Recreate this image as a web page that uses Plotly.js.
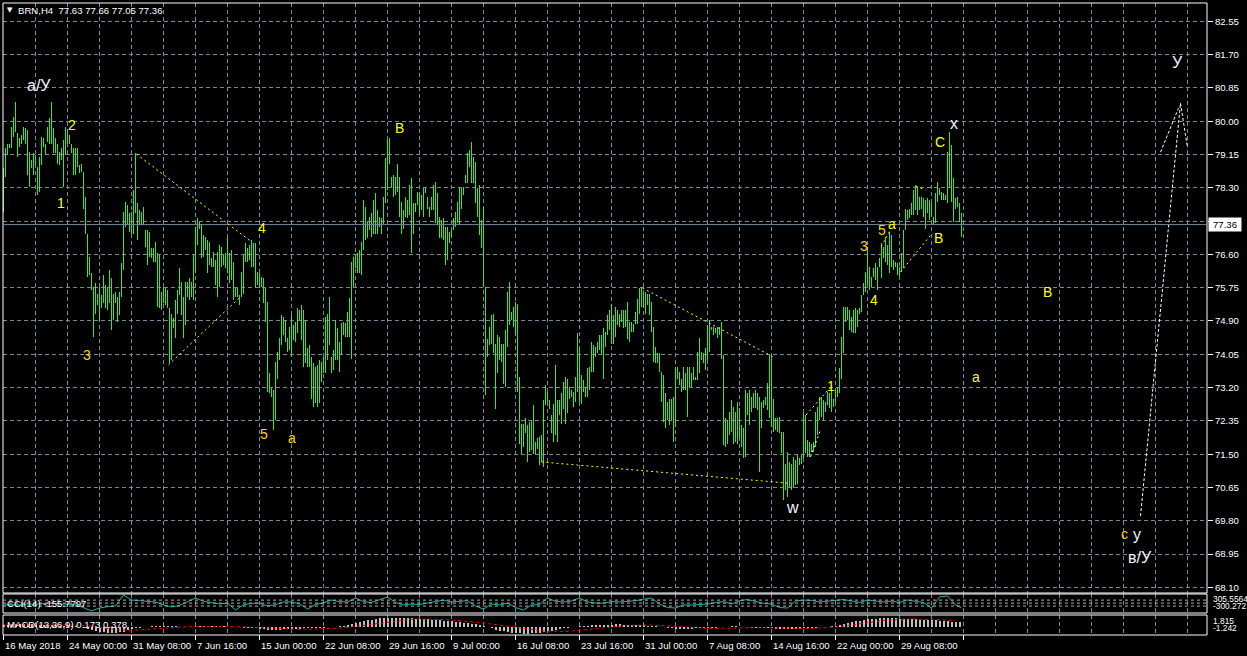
<!DOCTYPE html>
<html><head><meta charset="utf-8">
<script src="https://cdn.plot.ly/plotly-3.0.1.min.js"></script>
<style>html,body{margin:0;padding:0;background:#000;overflow:hidden}#chart{width:1247px;height:656px}</style>
</head><body><div id="chart"></div>
<script>
// ---------------- DATA ----------------
const symbolTitle = "BRN,H4  77.63 77.66 77.05 77.36";
const lastPrice = 77.36;
const priceTicks = [82.55,81.70,80.85,80.00,79.15,78.30,77.45,76.60,75.75,74.90,74.05,73.20,72.35,71.50,70.65,69.80,68.95,68.10];
const dateLabels = ["16 May 2018","24 May 00:00","31 May 08:00","7 Jun 16:00","15 Jun 00:00","22 Jun 08:00","29 Jun 16:00","9 Jul 00:00","16 Jul 08:00","23 Jul 16:00","31 Jul 00:00","7 Aug 08:00","14 Aug 16:00","22 Aug 00:00","29 Aug 08:00",""];

// H4 bars (high / low), one per bar
const barHigh = [
78.80,79.31,79.43,79.43,79.86,80.11,80.50,79.69,79.56,79.65,
79.86,79.82,79.77,79.22,79.01,79.18,79.14,78.84,79.09,79.60,
79.56,79.43,79.86,80.07,80.50,79.82,79.56,79.43,79.22,79.31,
79.52,79.86,79.77,79.65,79.43,79.31,79.31,79.31,78.88,78.92,
78.71,78.07,77.13,76.54,76.12,75.77,75.86,75.60,75.77,75.56,
76.07,75.82,75.77,76.20,75.99,75.60,75.65,75.52,75.65,76.37,
77.69,77.94,77.86,77.65,77.69,78.24,79.18,77.90,77.73,77.69,
77.82,77.22,77.22,77.18,76.75,76.75,76.92,76.63,76.58,75.65,
75.77,75.73,75.69,75.22,75.09,74.97,75.43,75.69,76.24,75.90,
75.52,75.90,75.90,75.99,75.90,76.58,77.31,77.52,77.43,77.35,
77.09,77.05,76.97,76.92,76.50,76.67,76.46,76.67,76.84,76.80,
76.58,76.63,77.05,76.63,76.71,76.41,75.73,75.73,75.56,76.16,
76.58,76.88,76.75,76.84,76.97,76.88,76.88,76.16,76.12,76.03,
75.99,75.73,75.39,73.56,73.18,73.14,73.86,74.12,74.46,75.05,
75.01,74.92,74.46,74.75,75.05,74.80,74.88,75.22,75.18,75.31,
75.18,74.92,74.20,74.29,73.99,73.82,73.73,73.77,73.90,
73.86,73.99,75.01,75.09,75.52,73.99,74.16,74.92,74.71,74.37,
74.84,74.88,74.84,75.14,75.48,76.41,76.54,76.58,76.63,76.71,
76.92,77.99,77.82,77.43,77.56,77.65,77.99,78.16,77.73,77.56,
77.52,78.07,79.05,79.52,79.56,78.58,78.63,78.58,78.92,78.58,
77.94,77.73,78.07,77.99,78.37,78.54,77.90,77.90,78.20,78.16,
78.12,78.29,78.29,78.07,77.82,78.07,78.37,78.46,78.16,77.56,
77.48,77.52,77.31,77.31,77.18,77.22,77.52,77.69,77.94,78.29,
78.29,78.33,78.63,79.18,79.26,79.48,79.09,78.97,78.29,78.37,
77.48,77.82,
75.77,74.45,74.75,75.05,75.09,74.32,74.54,74.49,74.32,74.32,
74.66,75.64,75.90,75.13,75.26,75.39,75.34,73.47,72.28,72.28,
72.41,72.24,72.32,72.37,72.75,71.81,71.90,71.94,71.98,72.88,
73.26,73.09,72.88,72.49,72.79,73.77,72.88,72.88,73.05,73.34,
73.47,73.43,73.22,73.13,73.09,73.47,74.58,74.20,73.52,73.39,
73.22,73.69,73.73,74.37,74.28,74.24,74.37,74.54,74.54,74.71,
74.62,75.05,75.17,75.34,75.05,75.26,75.17,75.09,75.17,75.17,
75.17,75.39,74.88,74.88,74.83,75.13,75.47,75.73,
75.77,75.65,75.65,75.60,75.60,75.39,74.75,74.24,74.07,74.07,
73.60,73.52,73.05,72.84,72.92,72.92,72.97,73.73,73.73,73.60,
73.43,73.73,73.56,73.73,73.73,73.56,73.73,73.48,74.12,74.46,
74.12,74.07,74.20,74.80,74.92,74.75,74.75,74.71,74.75,74.75,
74.88,74.03,72.41,72.37,72.58,72.88,72.71,72.58,72.84,72.67,
72.24,72.16,73.14,73.05,73.14,72.97,73.05,73.14,73.05,72.97,
72.84,72.88,72.97,73.31,74.03,73.99,72.92,72.41,72.41,72.46,
72.07,72.07,71.26,71.56,71.31,71.26,71.43,71.35,71.48,71.39,
71.48,72.54,72.50,71.86,71.82,71.77,71.82,72.58,72.71,72.97,
72.97,72.88,72.84,73.09,73.05,73.14,72.92,73.14,73.22,73.69,
74.50,75.26,75.26,75.26,75.18,75.01,75.18,75.22,75.18,75.22,
75.56,75.86,76.16,76.80,76.29,76.03,76.24,76.37,76.29,76.50,
76.88,76.80,77.05,76.84,77.18,77.09,76.46,76.41,76.37,76.29,
76.63,77.22,77.77,77.73,77.77,77.90,78.24,78.37,78.33,78.07,
78.07,78.03,77.99,78.03,77.99,77.94,77.56,78.16,78.46,78.29,
78.20,78.16,78.12,79.22,79.73,79.39,78.54,78.03,78.07,77.90,77.66
];
const barLow = [
77.69,78.57,79.14,79.31,79.31,79.60,79.73,79.09,79.35,79.43,
79.52,79.43,78.63,78.33,78.80,78.63,78.88,78.12,78.20,78.88,
79.35,79.14,79.48,79.43,79.43,79.18,79.18,78.92,78.88,79.01,
78.33,79.14,79.43,79.43,79.18,78.63,78.63,78.84,78.67,78.71,
77.77,77.13,76.03,76.07,75.69,74.50,75.09,75.31,74.88,75.22,
75.35,75.22,75.18,75.35,74.67,74.92,75.35,74.88,75.05,75.52,
76.20,77.31,77.35,77.18,77.13,77.13,77.65,76.97,77.35,77.35,
77.35,76.80,76.33,76.54,76.50,76.41,76.41,75.26,75.22,75.18,
75.35,75.31,75.22,73.82,73.90,74.71,74.46,75.09,75.56,75.05,
74.46,74.80,75.52,75.43,75.52,75.43,76.12,76.84,77.26,76.50,
76.54,76.71,76.12,76.33,76.29,76.29,75.82,75.52,75.77,76.29,
76.33,76.24,76.12,75.86,75.94,75.43,75.52,75.52,75.31,75.52,
75.60,76.41,76.41,76.46,76.29,76.29,75.77,75.82,75.73,75.77,
75.35,74.88,73.09,73.05,72.97,72.12,72.37,73.43,73.90,74.29,
74.54,74.37,74.12,74.16,73.99,74.41,74.37,74.58,74.92,74.41,
73.73,73.82,73.73,73.73,72.92,72.71,72.80,72.71,72.80,
73.35,73.56,73.56,73.90,74.29,73.56,73.65,73.90,73.90,73.60,
74.03,74.54,74.50,74.50,74.50,73.94,75.77,76.24,76.12,76.12,
76.07,76.71,76.97,77.01,77.22,77.05,77.13,77.13,77.13,77.31,
77.13,77.35,77.90,78.24,78.92,78.33,78.07,78.12,78.20,77.56,
77.13,77.26,77.56,77.52,77.60,76.63,77.13,77.69,77.86,77.60,
77.73,77.56,78.16,77.77,77.56,77.73,77.73,77.39,77.35,77.01,
77.01,76.97,76.33,76.46,76.88,77.05,77.22,77.31,77.39,77.35,
77.77,78.12,78.41,78.41,78.84,78.41,78.41,77.90,77.56,77.09,
76.75,75.77,
73.00,73.98,74.28,74.32,74.07,72.66,73.56,73.90,73.85,73.30,
73.22,74.24,74.79,74.92,74.75,74.54,73.09,71.77,71.51,71.68,
72.03,71.30,71.56,71.60,71.51,71.51,71.64,71.22,71.30,71.17,
72.75,72.83,72.66,72.03,71.81,71.98,71.81,72.49,72.28,72.66,
72.28,72.54,72.92,72.96,72.71,72.83,73.09,72.83,72.79,73.09,
72.96,72.96,73.13,73.60,73.60,73.98,74.07,74.15,74.03,73.43,
74.24,74.54,74.66,74.32,74.32,74.49,74.79,74.75,74.88,74.71,
74.75,74.45,74.37,74.62,74.62,74.83,74.83,75.09,
75.26,75.26,75.09,75.31,75.05,74.62,73.86,73.82,73.82,73.60,
72.84,72.33,72.16,72.37,72.24,72.37,71.82,72.20,73.43,73.26,
73.09,73.14,73.14,72.46,73.22,73.22,73.39,73.39,73.39,73.56,
73.90,73.82,73.65,73.90,74.12,74.67,74.54,74.58,74.46,74.54,
73.94,71.73,71.69,71.77,71.99,72.07,71.77,71.82,71.77,71.90,
71.69,71.39,71.43,72.50,72.24,72.58,72.67,72.67,72.63,71.05,
72.16,72.67,72.75,72.63,72.41,72.20,72.07,72.12,72.07,72.03,
71.52,70.33,70.58,70.41,70.67,70.58,70.63,70.71,70.75,71.22,
71.26,71.39,71.52,71.43,71.43,71.56,71.56,71.69,71.99,72.37,
72.46,72.37,72.58,72.75,72.67,72.58,72.71,72.84,72.97,73.05,
73.43,74.07,74.88,74.92,74.67,74.63,74.58,74.58,74.75,75.09,
75.14,75.56,75.65,75.82,75.69,75.77,76.03,75.94,75.69,76.29,
75.99,76.50,76.41,76.33,76.12,76.29,76.20,76.29,76.07,76.03,
76.16,76.24,77.22,77.48,77.52,77.60,77.60,77.73,77.60,77.73,
77.77,77.56,77.26,77.65,77.48,77.56,77.35,77.39,77.94,78.12,
77.99,77.99,77.99,77.90,78.33,77.94,77.43,77.77,77.82,77.43,77.05
];

// CCI(14), read every 4th bar, plus the last bar
const cciStep = 4;
const cciValues = [
-65,-50,-65,-31,-40,-20,0,-31,-31,-65,
-150,-267,-166,-120,-99,272,103,80,70,36,
-65,-130,-80,40,171,60,10,-31,0,-230,
-60,-10,2,-100,-50,36,40,-31,-200,-50,
10,100,50,36,171,50,20,120,205,20,
-60,-31,-50,0,60,100,36,70,80,-100,
-200,-31,-65,0,-150,-234,-65,-50,171,60,
36,70,171,40,0,2,50,36,60,80,
130,171,-31,-150,-166,-60,-65,-40,-31,20,
50,-31,80,120,60,-10,-31,-150,-166,70,
103,90,36,60,80,120,70,20,103,60,
36,70,20,103,70,20,-166,205,240,-65
];
const cciLast = -155.7797;
const cciLevels = [100, 0, -100];

// MACD(12,26,9): main histogram every 2nd bar, signal every 4th bar
const macdStep = 2;
const macdMain = [
0.3,0.35,0.4,0.4,0.45,0.45,0.4,0.4,0.35,0.35,0.3,0.3,0.25,0.25,0.2,0.2,0.15,0.1,0.05,
-0.05,-0.2,-0.4,-0.6,-0.75,-0.85,-0.95,-1.0,-1.05,-1.0,-0.95,-0.85,
-0.6,-0.4,-0.25,-0.15,-0.1,
0,0.05,0.1,0.1,0.15,0.15,0.1,0.05,0,-0.05,-0.05,0,0.05,0.1,0.15,0.15,0.1,0.1,0.05,0.05,0,-0.05,-0.1,-0.1,-0.15,-0.15,-0.2,
-0.25,-0.35,-0.45,-0.5,-0.55,-0.55,-0.5,-0.45,-0.4,-0.4,-0.35,-0.35,-0.3,-0.3,-0.25,-0.25,-0.2,-0.15,-0.1,-0.05,
0,0.1,0.2,0.35,0.5,0.65,0.8,0.95,1.1,1.2,1.3,1.4,1.45,1.5,1.55,1.55,1.5,1.5,
1.45,1.4,1.35,1.3,1.3,1.25,1.2,1.15,1.1,1.0,0.95,0.9,0.85,0.8,0.7,0.6,0.5,0.4,0.3,
0.1,-0.1,-0.3,-0.5,-0.65,-0.8,-0.9,-1.0,-1.1,-1.15,-1.2,-1.2,-1.15,-1.1,-1.0,-0.9,-0.8,-0.65,-0.5,-0.4,-0.3,
-0.2,-0.1,0,0.1,0.15,0.2,0.25,0.3,0.3,0.35,
0.35,0.35,0.4,0.4,0.35,0.35,0.3,0.3,0.3,0.25,0.2,0.15,0.1,0,-0.1,
-0.2,-0.3,-0.35,-0.4,-0.4,-0.35,-0.35,-0.3,-0.3,-0.25,-0.2,-0.2,
-0.15,-0.1,-0.05,0,0.05,0.05,0,-0.05,-0.1,-0.15,-0.2,-0.25,-0.3,-0.3,-0.3,-0.35,
-0.4,-0.45,-0.45,-0.45,-0.4,-0.35,-0.3,-0.25,-0.2,-0.15,-0.1,-0.05,0,
0.1,0.2,0.35,0.5,0.65,0.8,0.95,1.05,1.15,1.25,1.3,1.35,1.4,1.45,
1.45,1.45,1.4,1.35,1.3,1.3,1.25,1.25,1.2,1.2,1.15,1.1,1.1,1.0,0.95,0.9,0.85,0.8,0.75
];
const signalStep = 4;
const macdSignal = [
0.3,0.32,0.35,0.37,0.38,0.37,0.35,0.33,0.3,0.27,
0.2,0.05,-0.15,-0.35,-0.5,-0.6,-0.6,-0.55,-0.45,-0.35,
-0.25,-0.15,-0.08,-0.02,0.02,0.05,0.05,0.04,0.02,0.0,-0.03,-0.07,
-0.12,-0.2,-0.28,-0.35,-0.4,-0.42,-0.42,-0.4,-0.37,-0.32,
-0.25,-0.12,0.05,0.25,0.45,0.65,0.85,1.0,1.15,1.25,
1.3,1.3,1.28,1.22,1.15,1.05,0.95,0.8,
0.65,0.45,0.25,0.05,-0.15,-0.35,-0.5,-0.65,-0.75,-0.8,-0.8,
-0.75,-0.6,-0.45,-0.3,-0.15,0.0,0.1,0.2,0.25,0.3,
0.28,0.22,0.12,0.0,-0.1,-0.2,-0.25,-0.28,-0.28,-0.25,
-0.2,-0.15,-0.12,-0.12,-0.15,-0.2,-0.25,-0.3,-0.33,-0.33,
-0.3,-0.25,-0.15,-0.05,0.1,0.3,0.5,0.7,0.9,1.05,
1.15,1.25,1.3,1.3,1.28,1.25,1.2,1.12,1.05
];

// Wave labels (bar position, price)
const waveText  = ["a/У","2","1","3","4","5","a","В","1","3","4","5","a","В","С","x","w","a","В","c","у","в/У","У"];
const waveBar   = [17.5,34,28.5,41.5,129,130,144,198,413.5,430,435,439,444,467.5,468,475,394.5,486,522,560.5,566.5,568,587];
const wavePrice = [80.90,79.90,77.91,74.03,77.27,72.01,71.91,79.83,73.24,76.81,75.43,77.22,77.38,77.02,79.47,79.93,70.15,73.47,75.64,69.46,69.44,68.85,81.51];
const waveTone  = ["w","y","y","g","y","g","g","y","y","g","y","g","y","y","y","w","w","y","y","g","w","w","w"];

// Drawn trend lines: [bar0, price0, bar1, price1]
const yellowLines = [
  [66.5,79.16,124,76.92],[82.5,73.78,119,75.54],
  [319.5,75.74,385,73.98],[269,71.30,392,70.76],
  [438.8,76.80,443.2,77.20],[448.5,76.15,464.5,77.15],[456.2,78.34,461,78.24]
];
const whiteLines = [[401.3,72.50,413.5,73.21],[403.5,71.43,408.5,72.12]];
const projectionBars   = [568.5,588.5,592];
const projectionPrices = [69.92,80.46,79.32];
const projectionBranch = [[578.5,79.21],[587.5,80.33]];

// ---------------- CHART ----------------
const W = 1247, H = 656, L = 3, R = 40, T = 3, B = 21;
const PW = W - L - R, PH = H - T - B;
const PX = x => (x - L) / PW;
const PY = y => (H - B - y) / PH;
const FONT = "Liberation Sans, Arial, sans-serif";
const GRID = "#778899";
const nBars = barHigh.length;

const barIdx = barHigh.map((_, i) => i);
const barSpan = barHigh.map((h, i) => h - barLow[i]);

const cciX = cciValues.map((_, k) => k * cciStep).concat([nBars - 1]);
const cciY = cciValues.concat([cciLast]);
const macdX = macdMain.map((_, k) => k * macdStep);
const sigX = macdSignal.map((_, k) => k * signalStep);

const gridBars = []; for (let v = 16; v <= 600; v += 16) gridBars.push(v);

const traces = [
  {type:"bar", x:barIdx, y:barSpan, base:barLow, width:0.5, marker:{color:"#3ce43c", line:{width:0}}, hoverinfo:"skip", xaxis:"x", yaxis:"y"},
  {type:"scatter", mode:"lines", x:[projectionBars[0], projectionBars[1]], y:[projectionPrices[0], projectionPrices[1]], line:{color:"#ffffff", width:1, dash:"3px,2px"}, xaxis:"x", yaxis:"y", hoverinfo:"skip"},
  {type:"scatter", mode:"lines", x:[projectionBars[1], projectionBars[2]], y:[projectionPrices[1], projectionPrices[2]], line:{color:"#ffffff", width:1, dash:"3px,2px"}, xaxis:"x", yaxis:"y", hoverinfo:"skip"},
  {type:"scatter", mode:"lines", x:projectionBranch.map(p=>p[0]), y:projectionBranch.map(p=>p[1]), line:{color:"#ffffff", width:1, dash:"3px,2px"}, xaxis:"x", yaxis:"y", hoverinfo:"skip"},
  {type:"scatter", mode:"lines", x:cciX, y:cciY, line:{color:"#20b2aa", width:1}, xaxis:"x2", yaxis:"y2", hoverinfo:"skip"},
  {type:"bar", x:macdX, y:macdMain, width:1, marker:{color:"#c0c0c0", line:{width:0}}, xaxis:"x3", yaxis:"y3", hoverinfo:"skip"},
  {type:"scatter", mode:"lines", x:sigX, y:macdSignal, line:{color:"#ff0000", width:1, dash:"3px,3px"}, xaxis:"x3", yaxis:"y3", hoverinfo:"skip"}
];

const mainBottom = PY(593), cciTop = PY(594), cciBottom = PY(613), macdTop = PY(615);

const xBase = {range:[-0.25, PW/2 - 0.25], showticklabels:false, ticks:"", tickmode:"array", tickvals:gridBars,
  showgrid:true, gridcolor:GRID, gridwidth:1, griddash:"4px,3px", zeroline:false, showline:false, fixedrange:true};

const shapes = [];
const frame = (y0, y1) => shapes.push({type:"rect", xref:"paper", yref:"paper", x0:0, x1:1, y0:y0, y1:y1, line:{color:"#ffffff", width:1}, fillcolor:"rgba(0,0,0,0)", layer:"above"});
frame(mainBottom, 1); frame(cciBottom, cciTop); frame(0, macdTop);
shapes.push({type:"line", xref:"paper", yref:"y", x0:0, x1:1, y0:lastPrice, y1:lastPrice, line:{color:GRID, width:1}});
cciLevels.forEach(v => shapes.push({type:"line", xref:"paper", yref:"y2", x0:0, x1:1, y0:v, y1:v, line:{color:"#b0b0b0", width:1, dash:"3px,3px"}}));
for (let k = 0; k < dateLabels.length; k++) {
  shapes.push({type:"line", xref:"x3", yref:"paper", x0:k*32, x1:k*32, y0:0, y1:PY(640), line:{color:"#ffffff", width:1}});
}
yellowLines.forEach(s => shapes.push({type:"line", xref:"x", yref:"y", x0:s[0], y0:s[1], x1:s[2], y1:s[3], line:{color:"#ffff00", width:1, dash:"2px,3px"}}));
whiteLines.forEach(s => shapes.push({type:"line", xref:"x", yref:"y", x0:s[0], y0:s[1], x1:s[2], y1:s[3], line:{color:"#ffffff", width:1, dash:"2px,3px"}}));

const annotations = [];
const txt = (o) => annotations.push(Object.assign({showarrow:false, font:{family:FONT, size:9.6, color:"#ffffff"}}, o));
// header
txt({xref:"paper", yref:"paper", x:PX(9.5), y:PY(10.5), text:"▼", font:{family:"DejaVu Sans, sans-serif", size:7, color:"#ffffff"}, xanchor:"center", yanchor:"middle"});
txt({xref:"paper", yref:"paper", x:PX(16), y:PY(10.5), text:symbolTitle.replace(/ /g, "&nbsp;"), xanchor:"left", yanchor:"middle"});
// sub-window titles
txt({xref:"paper", yref:"paper", x:PX(5), y:PY(603), text:"CCI(14) " + cciLast.toFixed(4), xanchor:"left", yanchor:"middle"});
txt({xref:"paper", yref:"paper", x:PX(5), y:PY(624.5), text:"MACD(12,26,9) 0.173 0.378", xanchor:"left", yanchor:"middle"});
// sub-window scale labels
const smallFont = {family:FONT, size:8.4, color:"#ffffff"};
txt({xref:"paper", yref:"paper", x:PX(1211), y:PY(599), text:"305.5564", xanchor:"left", yanchor:"middle", font:smallFont});
txt({xref:"paper", yref:"paper", x:PX(1211), y:PY(606), text:"-300.272", xanchor:"left", yanchor:"middle", font:smallFont});
txt({xref:"paper", yref:"paper", x:PX(1211), y:PY(621), text:"1.815", xanchor:"left", yanchor:"middle", font:smallFont});
txt({xref:"paper", yref:"paper", x:PX(1211), y:PY(628), text:"-1.242", xanchor:"left", yanchor:"middle", font:smallFont});
// price box
txt({xref:"paper", yref:"y", x:PX(1208), y:lastPrice, text:lastPrice.toFixed(2), xanchor:"left", yanchor:"middle", bgcolor:"#ffffff", width:30, height:11, borderpad:1, font:{family:FONT, size:9.6, color:"#000000"}});
// date labels
dateLabels.forEach((s, k) => { if (s) txt({xref:"x3", yref:"paper", x:k*32, y:PY(645), xshift:-1, text:s, xanchor:"left", yanchor:"middle"}); });
// wave labels
const toneColor = {w:"#f0f4ff", y:"#ffff00", g:"#ffd21a"};
const toneSize = {w:16, y:14, g:14};
waveText.forEach((s, k) => txt({xref:"x", yref:"y", x:waveBar[k], y:wavePrice[k], text:s, xanchor:"center", yanchor:"middle",
  font:{family:FONT, size:toneSize[waveTone[k]], color:toneColor[waveTone[k]]}}));

const layout = {
  width:W, height:H, margin:{l:L, r:R, t:T, b:B, pad:0},
  paper_bgcolor:"#000000", plot_bgcolor:"#000000", showlegend:false, barmode:"overlay", bargap:0,
  xaxis:Object.assign({}, xBase, {anchor:"y", domain:[0,1]}),
  xaxis2:Object.assign({}, xBase, {anchor:"y2", domain:[0,1]}),
  xaxis3:Object.assign({}, xBase, {anchor:"y3", domain:[0,1]}),
  yaxis:{domain:[mainBottom, 1], range:[83.094 - 593/39.17, 83.094 - 3/39.17], side:"right", tickmode:"array",
    tickvals:priceTicks, ticktext:priceTicks.map(v=>v.toFixed(2)), ticks:"outside", ticklen:5, tickcolor:"#ffffff", tickwidth:1,
    tickfont:{family:FONT, size:9.6, color:"#ffffff"}, showgrid:true, gridcolor:GRID, gridwidth:1, griddash:"4px,3px",
    zeroline:false, showline:false, fixedrange:true},
  yaxis2:{domain:[cciBottom, cciTop], range:[-333.7, 305.6], showticklabels:false, ticks:"", showgrid:false, zeroline:false, showline:false, fixedrange:true},
  yaxis3:{domain:[0, macdTop], range:[-1.412, 1.985], showticklabels:false, ticks:"", showgrid:false, zeroline:false, showline:false, fixedrange:true},
  shapes:shapes, annotations:annotations
};

Plotly.newPlot("chart", traces, layout, {staticPlot:true, displayModeBar:false});
</script>
</body></html>
